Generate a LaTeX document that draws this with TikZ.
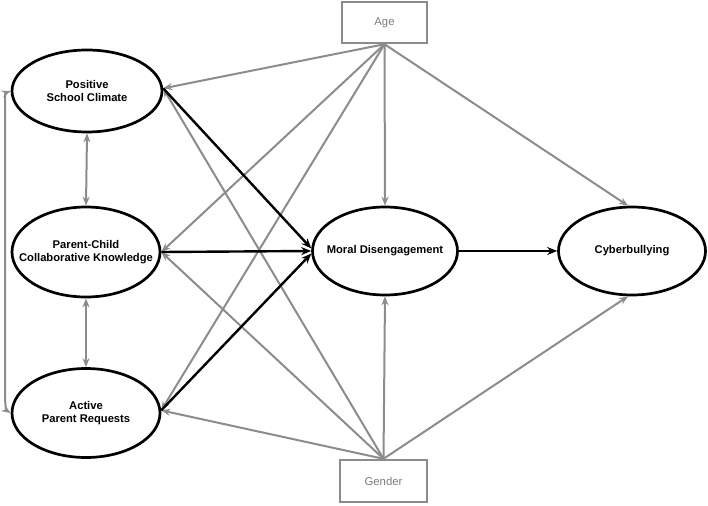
\documentclass[tikz,border=0pt]{standalone}
\usepackage{fontspec}
\setmainfont{Liberation Sans}
\usetikzlibrary{shapes.geometric,arrows.meta}
\definecolor{lg}{HTML}{8C8C8C}
\definecolor{tg}{HTML}{7A7A7A}
\tikzset{
  lat/.style={ellipse, draw=black, line width=2.7pt, inner xsep=-22pt, inner ysep=-12pt, align=center, font=\bfseries\fontsize{11.2}{13}\selectfont},
  obs/.style={rectangle, draw=lg, line width=2.4pt, inner sep=0pt, text=tg, font=\fontsize{11.3}{13}\selectfont},
  garr/.style={draw=lg, line width=2pt, -{Stealth[length=9pt,width=7pt]}},
  gdbl/.style={draw=lg, line width=2pt, {Stealth[length=9pt,width=7pt]}-{Stealth[length=9pt,width=7pt]}},
  barr/.style={draw=black, line width=2.4pt, -{Stealth[length=10pt,width=8pt]}},
}
\begin{document}
\begin{tikzpicture}[x=1pt,y=-1pt]
\useasboundingbox (0,0) rectangle (708,505);
\node[lat, minimum width=150pt, minimum height=82pt] (psc) at (87,91) {Positive\\School Climate};
\node[lat, minimum width=148pt, minimum height=90pt] (pck) at (86,252) {Parent-Child\\Collaborative Knowledge};
\node[lat, minimum width=148pt, minimum height=89pt] (apr) at (86,413) {Active\\Parent Requests};
\node[lat, minimum width=145pt, minimum height=88pt] (md) at (385,251) {Moral Disengagement};
\node[lat, minimum width=147pt, minimum height=88pt] (cb) at (632,251) {Cyberbullying};
\node[obs, minimum width=85pt, minimum height=41pt] (age) at (384.5,22.5) {Age};
\node[obs, minimum width=87pt, minimum height=42pt] (gen) at (383.5,481) {Gender};

\coordinate (pscE) at (psc.2);
\coordinate (pckE) at (pck.east);
\coordinate (aprE) at (apr.2);

% Age paths
\draw[garr] (age.south) -- (pscE);
\draw[garr] (age.south) -- (pckE);
\draw[garr] (age.south) -- (aprE);
\draw[garr] (age.south) -- (md.north);
\draw[garr] (age.south) -- (cb.95);
% Gender paths
\draw[garr] (gen.north) -- (pscE);
\draw[garr] (gen.north) -- (pckE);
\draw[garr] (gen.north) -- (aprE);
\draw[garr] (gen.north) -- (md.south);
\draw[garr] (gen.north) -- (cb.265);

% Covariances
\draw[gdbl] (psc.south) -- (pck.north);
\draw[gdbl] (pck.south) -- (apr.north);
\draw[gdbl] (psc.west) .. controls (5,93) and (5,100) .. (5,112) -- (5,392) .. controls (5,404) and (6,410) .. (apr.west);

% Black paths
\draw[barr] (pscE) -- (md.178);
\draw[barr] (pckE) -- (md.west);
\draw[barr] (aprE) -- (md.182);
\draw[barr] (md.east) -- (cb.west);
\end{tikzpicture}
\end{document}
